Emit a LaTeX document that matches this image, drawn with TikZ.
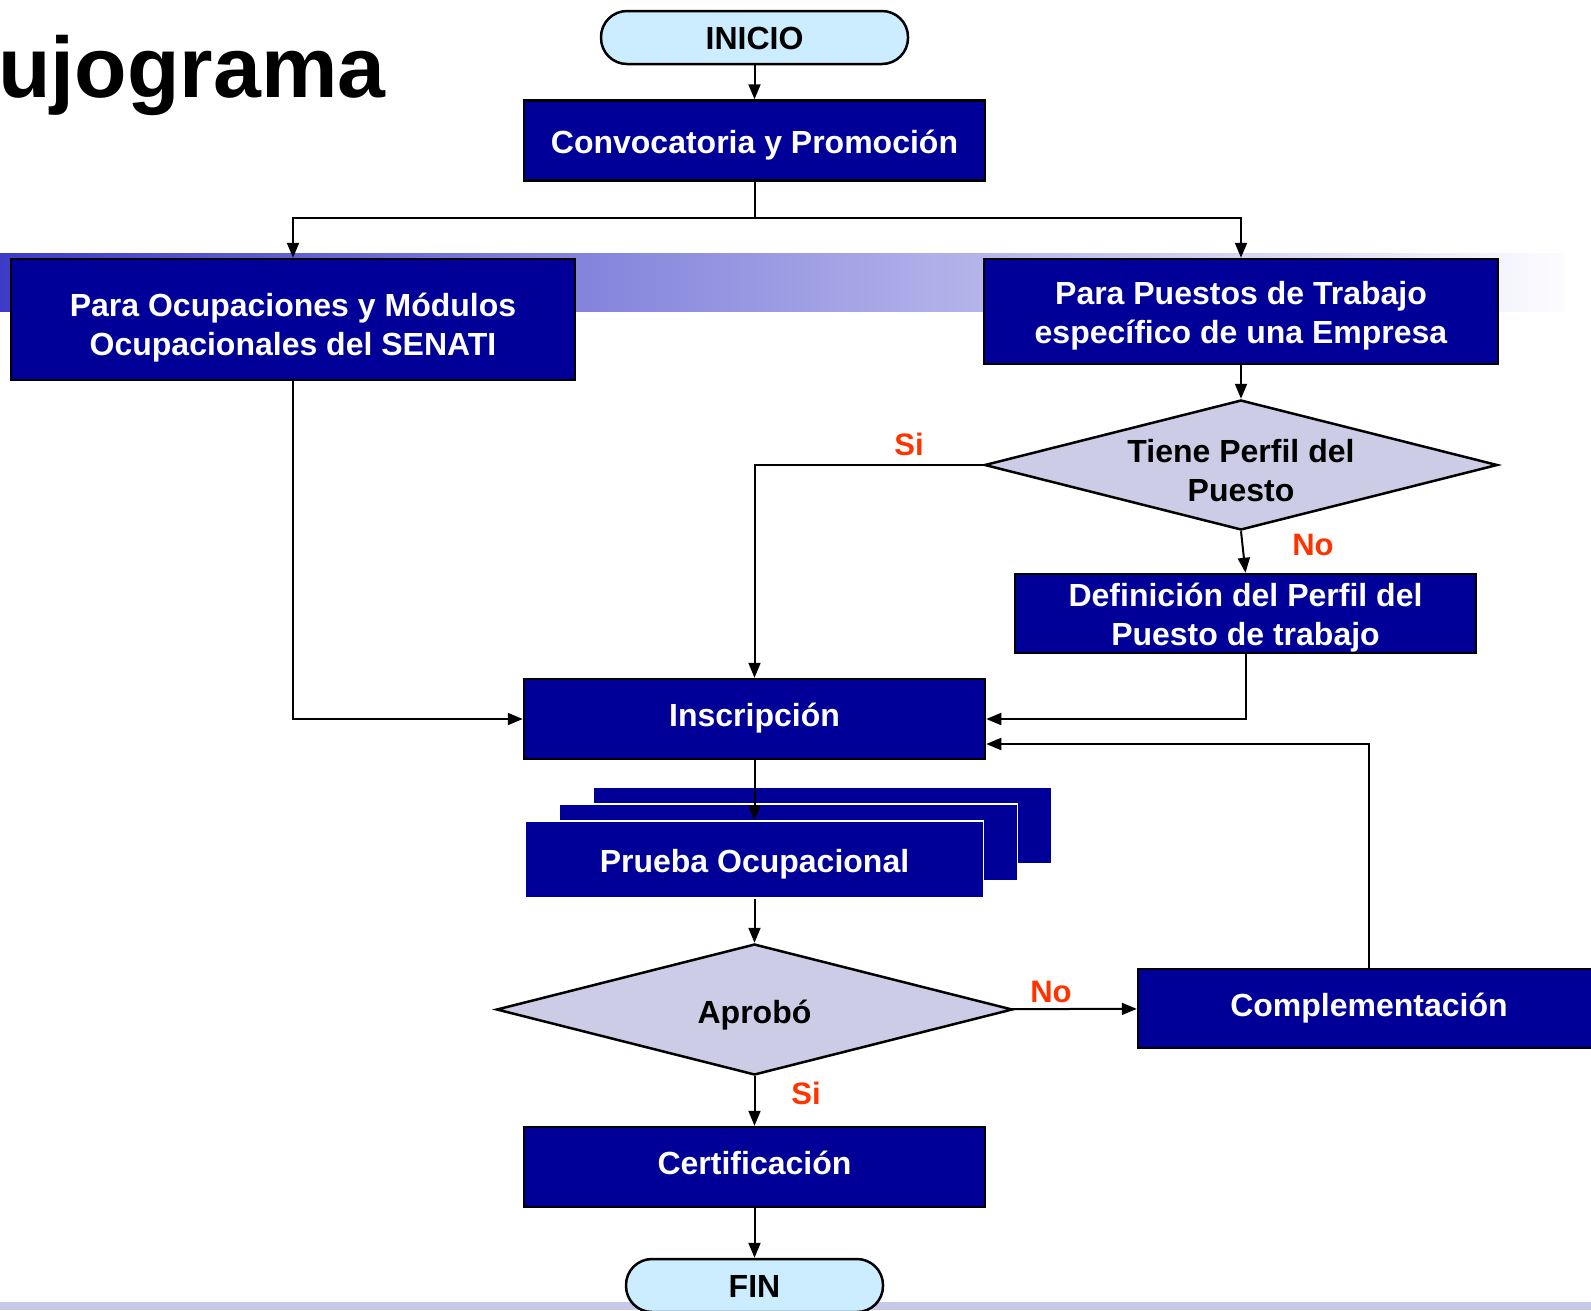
\documentclass[tikz,border=0pt]{standalone}
\usepackage{fontspec}
\setmainfont{Liberation Sans}
\usetikzlibrary{arrows.meta}
\usetikzlibrary{shapes.geometric}
\definecolor{boxblue}{RGB}{0,0,153}
\definecolor{askfill}{RGB}{204,204,230}
\definecolor{endfill}{RGB}{204,236,255}
\definecolor{answer}{RGB}{255,51,0}
\definecolor{bandL}{RGB}{60,60,200}
\definecolor{bandM}{RGB}{205,205,238}
\definecolor{bandR}{RGB}{252,252,255}
\definecolor{stripcol}{RGB}{200,200,234}
\newcommand\bigtxt{\fontsize{32}{39}\selectfont\bfseries}
\tikzstyle{flowhead}=[>/.tip={Triangle[length=15pt,width=12pt]}]
\tikzstyle{flowarr}=[line width=2pt,flowhead,->]
\tikzstyle{proc}=[draw=black,line width=2.5pt,fill=boxblue,text=white,font=\bigtxt,align=center,minimum width=461pt,minimum height=80pt,inner sep=0pt]
\tikzstyle{stackbox}=[draw=white,line width=1.5pt,fill=boxblue,minimum width=458pt,minimum height=77pt,inner sep=0pt]
\tikzstyle{term}=[draw=black,line width=2.5pt,fill=endfill,rounded corners=26pt,font=\bigtxt,minimum height=53pt,inner sep=0pt]
\tikzstyle{ask}=[diamond,aspect=3.95,draw=black,line width=2.5pt,fill=askfill,font=\bigtxt,align=center,inner sep=0pt]
\tikzstyle{answ}=[text=answer,font=\fontsize{31}{37}\selectfont\bfseries,inner sep=0pt]
\tikzstyle{txt}=[text height=#1,text depth=0pt]

\begin{document}
\begin{tikzpicture}[x=1pt,y=-1pt]
	\useasboundingbox (0,0) rectangle (1591,1310);
	\clip (0,0) rectangle (1591,1310);
	% background band and bottom strip
	\shade[left color=bandL,middle color=bandM,right color=bandR] (0,253) rectangle (1564,311);
	\fill[stripcol] (0,1302) rectangle (1591,1310);
	\node[anchor=base west,inner sep=0pt,font=\fontsize{86}{100}\selectfont\bfseries] (title) at (-2,97) {ujograma};
	% nodes
	\node[term,txt=23pt,minimum width=307pt] (inicio) at (754.5,37.5) {INICIO};
	\node[proc,txt=26pt] (conv) at (754.5,140.5) {Convocatoria y Promoción};
	\node[proc,txt=71pt,minimum width=564pt,minimum height=121pt] (ocup) at (293,319.5) {Para Ocupaciones y Módulos\\Ocupacionales del SENATI};
	\node[proc,txt=64pt,minimum width=514pt,minimum height=105pt] (puest) at (1241,311.5) {Para Puestos de Trabajo\\específico de una Empresa};
	\node[ask,text height=72pt,text depth=-26pt,minimum width=513pt,minimum height=130pt] (tiene) at (1241,465) {Tiene Perfil del\\Puesto};
	\node[proc,txt=63pt,minimum height=79pt] (defin) at (1245.5,613.5) {Definición del Perfil del\\Puesto de trabajo};
	\node[proc,txt=14pt] (inscr) at (754.5,719) {Inscripción};
	\node[stackbox] (prueba3) at (822.5,825.5) {};
	\node[stackbox] (prueba2) at (788.5,842.5) {};
	\node[stackbox,txt=25pt,text=white,font=\bigtxt] (prueba) at (754.5,859.5) {Prueba Ocupacional};
	\node[ask,txt=28pt,minimum width=516pt,minimum height=131pt] (aprob) at (754.5,1009.5) {Aprobó};
	\node[proc,txt=16pt,minimum width=462pt,minimum height=79pt] (compl) at (1369,1008.5) {Complementación};
	\node[proc,txt=15pt] (cert) at (754.5,1167) {Certificación};
	\node[term,txt=23pt,minimum width=257pt] (fin) at (754.5,1285.5) {FIN};
	% answers
	\node[answ] (si1) at (909,444) {Si};
	\node[answ] (no1) at (1313,545) {No};
	\node[answ] (no2) at (1051,992) {No};
	\node[answ] (si2) at (806,1093) {Si};
	% connectors
	\coordinate (fork) at (754.5,218);
	\draw[flowarr] (inicio) -- (conv);
	\draw[line width=2pt] (conv) -- (fork);
	\draw[flowarr] (fork) -| (ocup);
	\draw[flowarr] (fork) -| (puest);
	\draw[flowarr] (puest) -- (tiene);
	\draw[flowarr] (tiene.west) -| (inscr);
	\draw[flowarr] (tiene.south) -- (defin.north);
	\draw[flowarr] (ocup) |- (inscr);
	\draw[flowarr] (defin) |- (inscr);
	\draw[flowarr] (compl) |- ([yshift=-25pt]inscr.east);
	\draw[flowarr] (inscr) -- (prueba);
	\draw[flowarr] (prueba) -- (aprob);
	\draw[flowarr] (aprob) -- (compl);
	\draw[flowarr] (aprob) -- (cert);
	\draw[flowarr] (cert) -- (fin);
\end{tikzpicture}
\end{document}
